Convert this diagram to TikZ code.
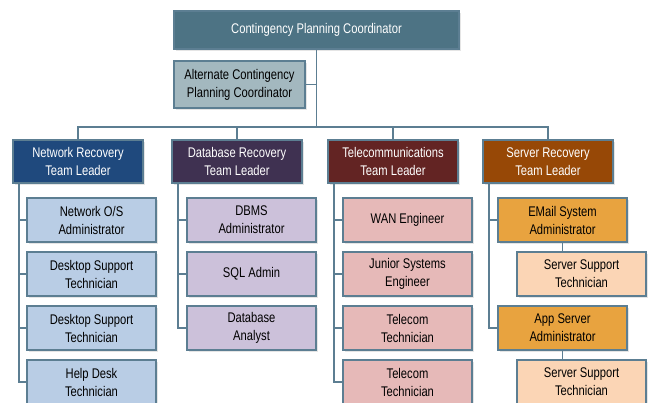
\documentclass[tikz,border=0pt]{standalone}
\usepackage{fontspec}
\setmainfont[FakeStretch=0.8]{Liberation Sans}
\usepackage{tikz}
\usetikzlibrary{positioning,shadows}
\definecolor{slate}{HTML}{4D7384}
\definecolor{paleSlate}{HTML}{A3B8BF}
\definecolor{edge}{HTML}{5C7E92}
\definecolor{navy}{HTML}{1F497D}
\definecolor{plum}{HTML}{3F3151}
\definecolor{maroon}{HTML}{632423}
\definecolor{rust}{HTML}{974806}
\definecolor{paleBlue}{HTML}{B9CDE5}
\definecolor{paleLilac}{HTML}{CCC1DA}
\definecolor{paleRose}{HTML}{E6B9B8}
\definecolor{amber}{HTML}{E8A33F}
\definecolor{peach}{HTML}{FBD5B5}
\tikzset{
  box/.style={rectangle, draw=edge, line width=1.4pt, inner sep=0pt, outer sep=0pt,
              align=center, font=\fontsize{14}{18}\selectfont,
              drop shadow={shadow xshift=1.5pt, shadow yshift=-1.5pt, opacity=0.2}},
  topbox/.style={box, fill=slate, text=white, minimum width=285pt, minimum height=38pt},
  altbox/.style={box, fill=paleSlate, minimum width=131pt, minimum height=47pt},
  lead/.style={box, text=white, minimum width=130pt, minimum height=43pt},
  job/.style={box, minimum width=129pt, minimum height=44pt},
  conn/.style={draw=edge, line width=1.4pt}
}
\begin{document}
\begin{tikzpicture}[x=1pt, y=-1pt]
\useasboundingbox[fill=white] (0,0) rectangle (648,402);
\node[topbox] (cpc) at (316.5,30) {Contingency Planning Coordinator};
\node[altbox, below=12pt of cpc.south west, anchor=north west] (acpc) {Alternate Contingency\\Planning Coordinator};
\coordinate (bus) at (316.5,127);

\node[lead, fill=navy] (netlead) at (78,161.5) {Network Recovery\\Team Leader};
\node[lead, fill=plum, right=29pt of netlead] (dblead) {Database Recovery\\Team Leader};
\node[lead, fill=maroon, right=26pt of dblead] (tellead) {Telecommunications\\Team Leader};
\node[lead, fill=rust, right=25pt of tellead] (srvlead) {Server Recovery\\Team Leader};

% network team
\node[job, fill=paleBlue, below=15pt of netlead.south west, anchor=north west, xshift=14pt] (net1) {Network O/S\\Administrator};
\node[job, fill=paleBlue, below=10pt of net1] (net2) {Desktop Support\\Technician};
\node[job, fill=paleBlue, below=10pt of net2] (net3) {Desktop Support\\Technician};
\node[job, fill=paleBlue, below=10pt of net3] (net4) {Help Desk\\Technician};

% database team
\node[job, fill=paleLilac, below=15pt of dblead.south west, anchor=north west, xshift=15pt] (db1) {DBMS\\Administrator};
\node[job, fill=paleLilac, below=10pt of db1] (db2) {SQL Admin};
\node[job, fill=paleLilac, below=10pt of db2] (db3) {Database\\Analyst};

% telecom team
\node[job, fill=paleRose, below=15pt of tellead.south west, anchor=north west, xshift=15pt] (tel1) {WAN Engineer};
\node[job, fill=paleRose, below=10pt of tel1] (tel2) {Junior Systems\\Engineer};
\node[job, fill=paleRose, below=10pt of tel2] (tel3) {Telecom\\Technician};
\node[job, fill=paleRose, below=10pt of tel3] (tel4) {Telecom\\Technician};

% server team
\node[job, fill=amber, below=15pt of srvlead.south west, anchor=north west, xshift=15pt] (mail) {EMail System\\Administrator};
\node[job, fill=peach, below=10pt of mail.south west, anchor=north west, xshift=19pt] (mailsup) {Server Support\\Technician};
\node[job, fill=amber, below=10pt of mailsup.south west, anchor=north west, xshift=-19pt] (app) {App Server\\Administrator};
\node[job, fill=peach, below=10pt of app.south west, anchor=north west, xshift=19pt] (appsup) {Server Support\\Technician};

\draw[conn] (cpc.south) -- (bus);
\draw[conn] (acpc.east) -- (acpc.east -| cpc.south);
\foreach \l in {netlead,dblead,tellead,srvlead}
  \draw[conn] (\l.north) |- (bus);
\foreach \l/\cs in {netlead/{net1,net2,net3,net4}, dblead/{db1,db2,db3},
                    tellead/{tel1,tel2,tel3,tel4}, srvlead/{mail,app}}
  \foreach \c in \cs
    \draw[conn] (\c.west) -| ([xshift=6pt]\l.south west);
\draw[conn] (mail.south) -- (mail.south |- mailsup.north);
\draw[conn] (app.south) -- (app.south |- appsup.north);
\end{tikzpicture}
\end{document}
